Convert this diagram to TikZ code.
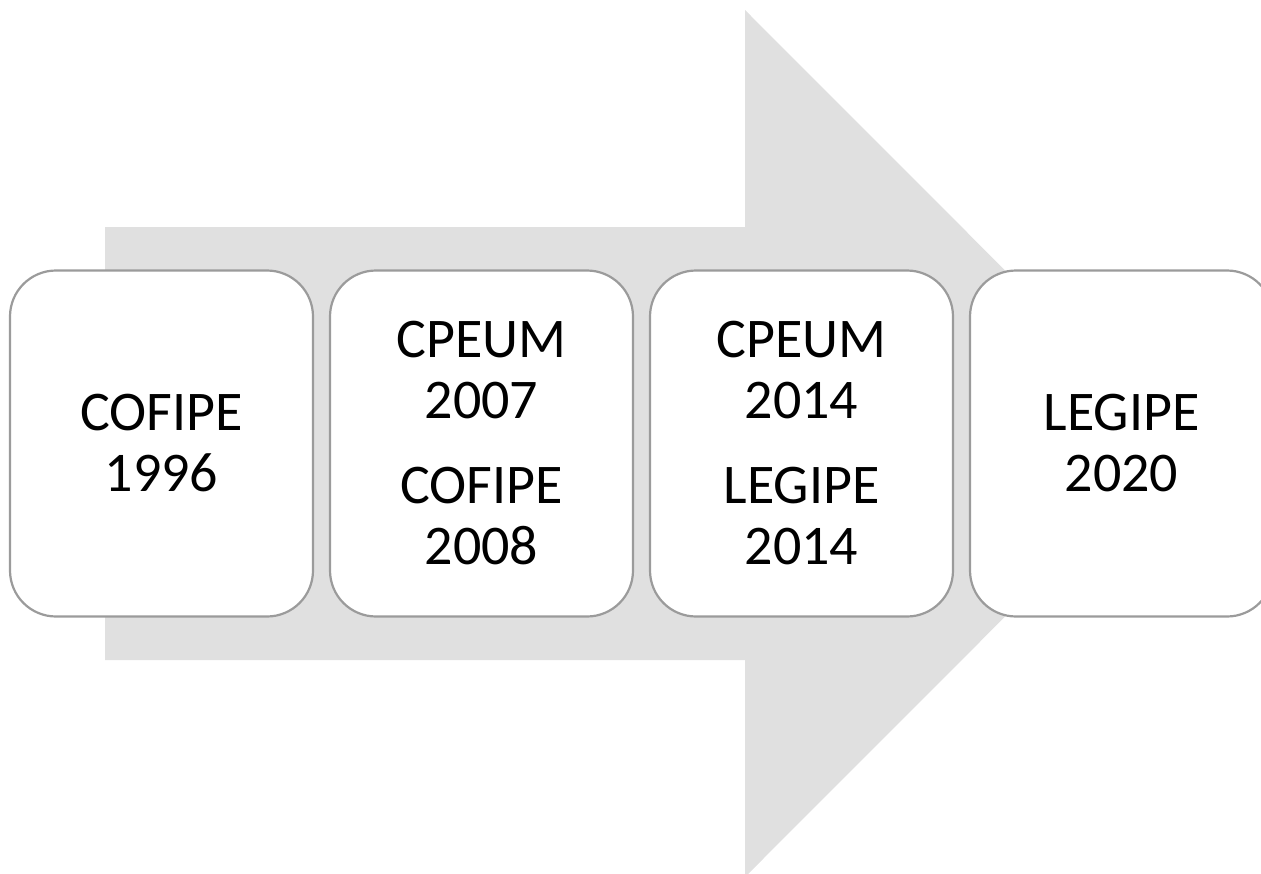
\documentclass[tikz,border=0pt]{standalone}
\usepackage{fontspec}
\setmainfont{Carlito}
\definecolor{arrowgray}{RGB}{224,224,224}
\definecolor{edgegray}{RGB}{155,155,155}
\tikzset{
  stagebox/.style={draw=edgegray, line width=2.2pt, fill=white, rounded corners=46pt,
    minimum width=303pt, minimum height=346pt, inner sep=0pt, align=center,
    font=\fontsize{56}{61}\selectfont, text=black},
  bigarrow/.style={fill=arrowgray, draw=none}
}
\begin{document}
\begin{tikzpicture}[x=1pt,y=-1pt]
\useasboundingbox (0,0) rectangle (1261,873);
\clip (0,0) rectangle (1261,873);
\fill[bigarrow] (105,227) -- (745,227) -- (745,10) -- (1178,443.5) -- (745,877) -- (745,660) -- (105,660) -- cycle;
\node[stagebox] (b1) at (161.5,443.5) {COFIPE\\1996};
\node[stagebox] (b2) at (481.5,443.5) {CPEUM\\2007\\[24pt]COFIPE\\2008};
\node[stagebox] (b3) at (801.5,443.5) {CPEUM\\2014\\[24pt]LEGIPE\\2014};
\node[stagebox] (b4) at (1121.5,443.5) {LEGIPE\\2020};
\end{tikzpicture}
\end{document}
